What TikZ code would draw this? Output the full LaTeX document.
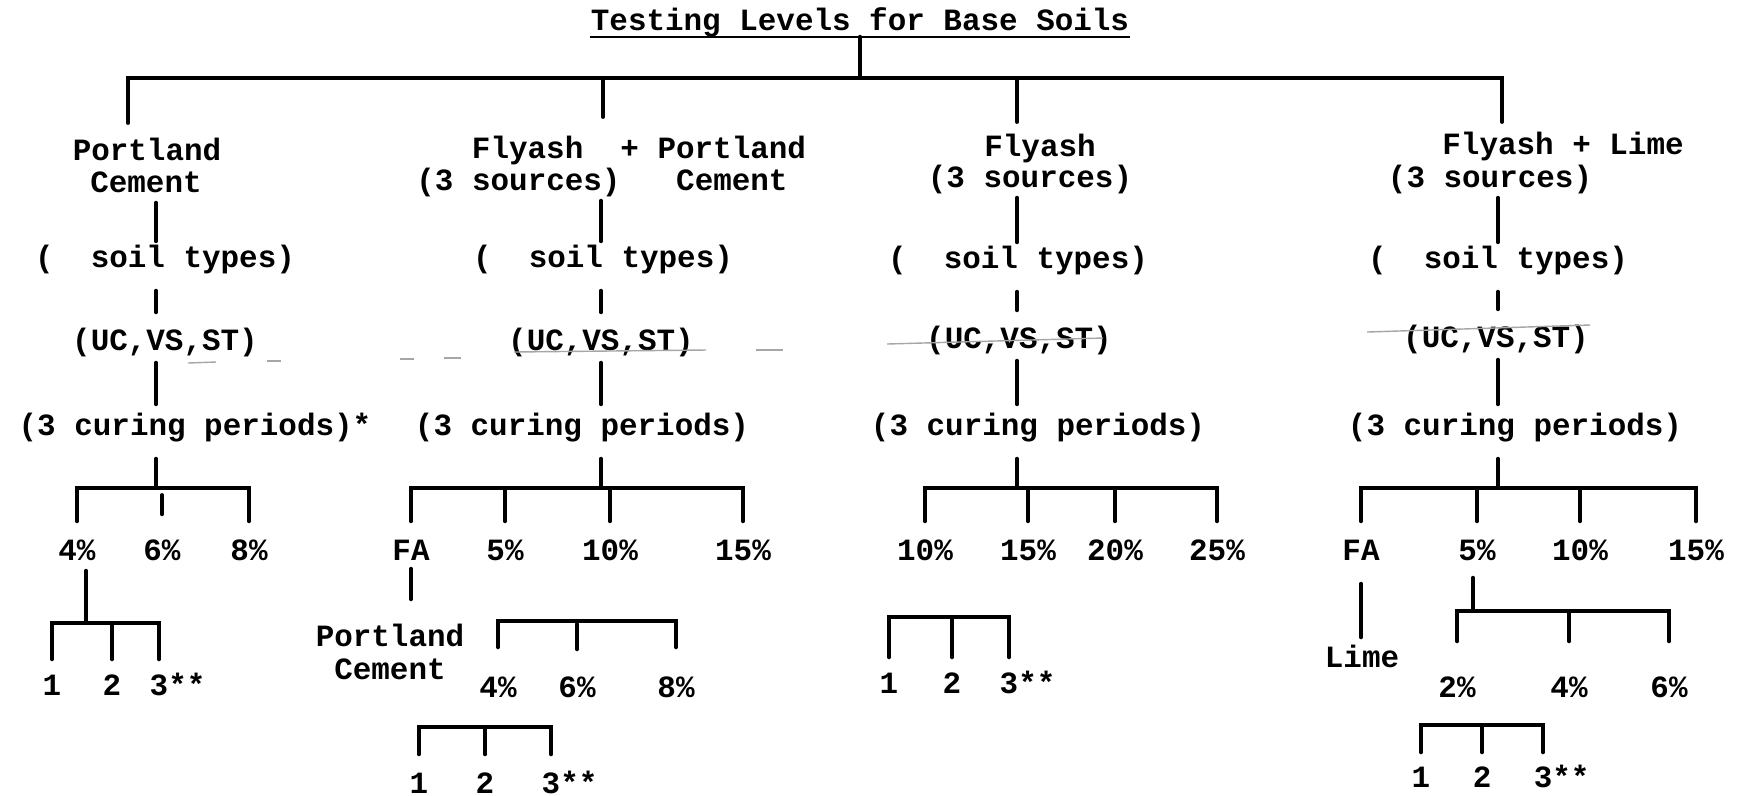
\documentclass[tikz,border=0pt]{standalone}
\usepackage{fontspec}
\setmonofont{Liberation Mono}
\usetikzlibrary{calc}

\tikzset{
  lbl/.style={font=\fontsize{8.8}{10}\selectfont\ttfamily\bfseries,inner sep=0pt,text height=2mm,text depth=0mm},
  tie/.style={line width=1.1pt,line cap=round},
  smear/.style={gray!70,line width=0.4pt},
}

\begin{document}
\begin{tikzpicture}[x=0.1mm,y=-0.1mm]
\useasboundingbox (0,0) rectangle (1740,795);
\fill[white] (0,0) rectangle (1740,795);
\node[lbl] (title) at (860,20) {Testing Levels for Base Soils};
\draw[line width=0.6pt] ([yshift=-0.6mm]title.south west) -- ([yshift=-0.6mm]title.south east);
\coordinate (hub) at (860,78);
\coordinate (t1) at (128,123);
\coordinate (t2) at (603,117);
\coordinate (t3) at (1017,122);
\coordinate (t4) at (1502,122);
\draw[tie] ([yshift=-0.6mm]title.south) -- (hub);
\draw[tie] (t1) |- (hub) -| (t4);
\draw[tie] (t2) -- (t2 |- hub);
\draw[tie] (t3) -- (t3 |- hub);
% binders
\node[lbl] (mat1) at (147,150) {Portland};
\node[lbl] (sub1) at (146,182) {Cement};
\node[lbl] (mat2) at (639,148) {Flyash~~+ Portland};
\node[lbl] (sub2) at (602,180) {(3 sources)~~~Cement};
\node[lbl] (mat3) at (1040,146) {Flyash};
\node[lbl] (sub3) at (1030,177) {(3 sources)};
\node[lbl] (mat4) at (1563,144) {Flyash + Lime};
\node[lbl] (sub4) at (1490,177) {(3 sources)};
\node[lbl] (soil1) at (165,257) {(~~soil types)};
\node[lbl] (soil2) at (603,257) {(~~soil types)};
\node[lbl] (soil3) at (1018,258) {(~~soil types)};
\node[lbl] (soil4) at (1498,258) {(~~soil types)};
\node[lbl] (tst1) at (165,340) {(UC,VS,ST)};
\node[lbl] (tst2) at (601,340) {(UC,VS,ST)};
\node[lbl] (tst3) at (1019,338) {(UC,VS,ST)};
\node[lbl] (tst4) at (1496,337) {(UC,VS,ST)};
\node[lbl] (cure1) at (195,425) {(3 curing periods)*};
\node[lbl] (cure2) at (582,425) {(3 curing periods)};
\node[lbl] (cure3) at (1038,425) {(3 curing periods)};
\node[lbl] (cure4) at (1515,425) {(3 curing periods)};
\coordinate (k1) at (156,488);
\coordinate (k2) at (601,488);
\coordinate (k3) at (1017,488);
\coordinate (k4) at (1498,488);
\foreach \c in {1,...,4} {
  \draw[tie,shorten <=1mm,shorten >=0.5mm] (sub\c.south -| k\c) -- (soil\c.north -| k\c);
  \draw[tie,shorten <=2.3mm,shorten >=1.7mm] (soil\c.south -| k\c) -- (tst\c.north -| k\c);
  \draw[tie,shorten <=1.2mm,shorten >=1mm] (tst\c.south -| k\c) -- (cure\c.north -| k\c);
  \draw[tie,shorten <=2.3mm] (cure\c.south -| k\c) -- (k\c);
}
\draw[smear] (514,352) -- (706,350);
\draw[smear] (756,350) -- (783,350);
\draw[smear] (188,363) -- (216,362);
\draw[smear] (267,361) -- (281,361);
\draw[smear] (400,359) -- (414,359);
\draw[smear] (444,358) -- (461,358);
\draw[smear] (887,344) -- (1103,338);
\draw[smear] (1367,332) -- (1590,325);
% percentages
\node[lbl] (c1p4) at (77,550) {4\%};
\node[lbl] (c1p6) at (162,550) {6\%};
\node[lbl] (c1p8) at (249,550) {8\%};
\node[lbl] (c2fa) at (411,550) {FA};
\node[lbl] (c2p5) at (505,550) {5\%};
\node[lbl] (c2p10) at (610,550) {10\%};
\node[lbl] (c2p15) at (743,550) {15\%};
\node[lbl] (c3p10) at (925,550) {10\%};
\node[lbl] (c3p15) at (1028,550) {15\%};
\node[lbl] (c3p20) at (1115,550) {20\%};
\node[lbl] (c3p25) at (1217,550) {25\%};
\node[lbl] (c4fa) at (1361,550) {FA};
\node[lbl] (c4p5) at (1477,550) {5\%};
\node[lbl] (c4p10) at (1580,550) {10\%};
\node[lbl] (c4p15) at (1696,550) {15\%};
\draw[tie,shorten <=1.8mm,shorten >=1.8mm] (c1p4.north) |- (k1) -| (c1p8.north);
\draw[tie,shorten <=2.5mm,shorten >=0.7mm] (c1p6.north) -- (c1p6.north |- k1);
\draw[tie,shorten <=1.8mm,shorten >=1.8mm] (c2fa.north) |- (k2) -| (c2p15.north);
\draw[tie,shorten <=1.8mm,shorten >=1.8mm] (c3p10.north) |- (k3) -| (c3p25.north);
\draw[tie,shorten <=1.8mm,shorten >=1.8mm] (c4fa.north) |- (k4) -| (c4p15.north);
\foreach \n in {c2p5,c2p10,c3p15,c3p20,c4p5,c4p10}
  \draw[tie,shorten <=1.8mm] (\n.north) -- (\n.north |- k1);
% second binder and repeats
\node[lbl] (c1r1) at (52,685) {1};
\node[lbl] (c1r2) at (112,685) {2};
\node[lbl] (c1r3) at (159,685) {3\rlap{**}};
\coordinate (j1) at (86,623);
\draw[tie,shorten <=1mm] (c1p4.south -| j1) -- (j1);
\draw[tie,shorten <=1.5mm,shorten >=1.5mm] (c1r1.north) |- (j1) -| (c1r3.north);
\draw[tie,shorten <=1.5mm] (c1r2.north) -- (c1r2.north |- j1);
\node[lbl] (c2pc) at (390,636) {Portland};
\node[lbl] (c2cem) at (390,669) {Cement};
\draw[tie,shorten <=0.8mm,shorten >=2.6mm] (c2fa.south) -- (c2fa.south |- c2pc.north);
\node[lbl] (c2q4) at (498,687) {4\%};
\node[lbl] (c2q6) at (577,687) {6\%};
\node[lbl] (c2q8) at (676,687) {8\%};
\coordinate (kq) at (575,621);
\draw[tie,shorten <=2.9mm,shorten >=2.9mm] (c2q4.north) |- (kq) -| (c2q8.north);
\draw[tie,shorten <=2.7mm,shorten >=0.3mm] (c2q6.north) -- (c2q6.north |- kq);
\node[lbl] (c2r1) at (419,783) {1};
\node[lbl] (c2r2) at (485,783) {2};
\node[lbl] (c2r3) at (551,783) {3\rlap{**}};
\coordinate (kr) at (488,727);
\draw[tie,shorten <=1.8mm,shorten >=1.8mm] (c2r1.north) |- (kr) -| (c2r3.north);
\draw[tie,shorten <=1.8mm] (c2r2.north) -- (c2r2.north |- kr);
\node[lbl] (c3r1) at (889,683) {1};
\node[lbl] (c3r2) at (952,683) {2};
\node[lbl] (c3r3) at (1009,683) {3\rlap{**}};
\coordinate (kt) at (948,617);
\draw[tie,shorten <=1.5mm,shorten >=1.5mm] (c3r1.north) |- (kt) -| (c3r3.north);
\draw[tie,shorten <=1.5mm] (c3r2.north) -- (c3r2.north |- kt);
\node[lbl] (c4lime) at (1362,657) {Lime};
\draw[tie,shorten <=2.3mm,shorten >=0.9mm] (c4fa.south) -- (c4fa.south |- c4lime.north);
\node[lbl] (c4q2) at (1457,687) {2\%};
\node[lbl] (c4q4) at (1569,687) {4\%};
\node[lbl] (c4q6) at (1669,687) {6\%};
\coordinate (j4) at (1473,611);
\draw[tie,shorten <=1.7mm] (c4p5.south -| j4) -- (j4);
\draw[tie,shorten <=3.5mm,shorten >=3.5mm] (c4q2.north) |- (j4) -| (c4q6.north);
\draw[tie,shorten <=3.5mm] (c4q4.north) -- (c4q4.north |- j4);
\node[lbl] (c4r1) at (1421,777) {1};
\node[lbl] (c4r2) at (1482,777) {2};
\node[lbl] (c4r3) at (1543,777) {3\rlap{**}};
\coordinate (kv) at (1484,725);
\draw[tie,shorten <=1.4mm,shorten >=1.4mm] (c4r1.north) |- (kv) -| (c4r3.north);
\draw[tie,shorten <=1.4mm] (c4r2.north) -- (c4r2.north |- kv);
\end{tikzpicture}
\end{document}
